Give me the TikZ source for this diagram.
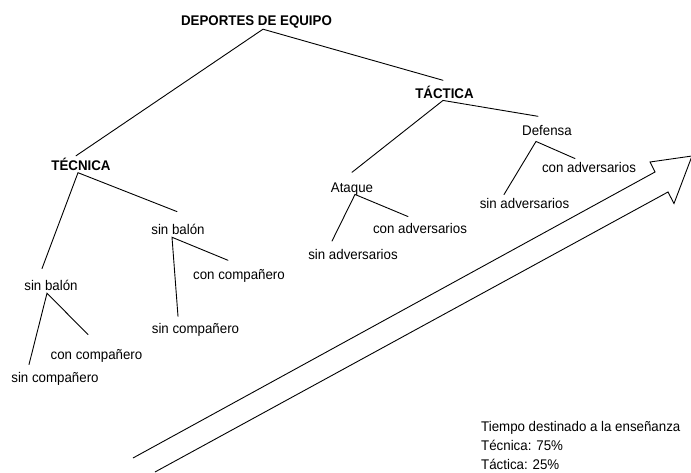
\documentclass[tikz,border=0pt]{standalone}
\usepackage{fontspec}
\setmainfont{Liberation Sans}[FakeStretch=0.95]
\begin{document}
\begin{tikzpicture}[x=1pt,y=-1pt,
  lab/.style={inner sep=0pt, text height=10pt, text depth=0pt, font=\fontsize{14}{19}\selectfont},
  head/.style={lab, font=\fontsize{14}{19}\selectfont\bfseries},
  conn/.style={line width=0.9pt, line cap=round},
  bigarrow/.style={line width=0.9pt, line join=miter}]
\useasboundingbox (0,0) rectangle (691,472);
% nodes
\node[head] (dep) at (256.5,20) {DEPORTES DE EQUIPO};
\node[head] (tec) at (81,165.5) {TÉCNICA};
\node[head] (tac) at (444.5,93.5) {TÁCTICA};
\node[lab] (sb1) at (178,229.3) {sin balón};
\node[lab] (cc1) at (239,274) {con compañero};
\node[lab] (sc1) at (195.5,328.5) {sin compañero};
\node[lab] (sb2) at (51,285) {sin balón};
\node[lab] (cc2) at (96.5,354) {con compañero};
\node[lab] (sc2) at (55,377) {sin compañero};
\node[lab] (ata) at (352,187.5) {Ataque};
\node[lab] (caa) at (420,228) {con adversarios};
\node[lab] (saa) at (353,254.5) {sin adversarios};
\node[lab] (def) at (547,130.5) {Defensa};
\node[lab] (cad) at (589,167) {con adversarios};
\node[lab] (sad) at (524.5,203) {sin adversarios};
\node[lab, anchor=base west] (time1) at (481,431) {Tiempo destinado a la enseñanza};
\node[lab, anchor=base west] (time2) at (481,450) {Técnica: 75\%};
\node[lab, anchor=base west] (time3) at (481,469) {Táctica: 25\%};
% connectors
\draw[conn] ([xshift=-5pt,yshift=4.5pt]tec.north) -- ([xshift=6.5pt,yshift=-4pt]dep.south)
            -- ([xshift=-1.5pt,yshift=8pt]tac.north);
\draw[conn] ([xshift=-1pt,yshift=12.5pt]sb1.north) -- ([xshift=-3pt,yshift=-2pt]tec.south)
            -- ([xshift=-9pt,yshift=11.25pt]sb2.north);
\draw[conn] ([xshift=-11pt,yshift=8.5pt]cc1.north) -- ([xshift=-6pt,yshift=-2.75pt]sb1.south)
            -- ([xshift=-17.5pt,yshift=7pt]sc1.north);
\draw[conn] ([xshift=-8.5pt,yshift=14.25pt]cc2.north) -- ([xshift=-4pt,yshift=-3pt]sb2.south)
            -- ([xshift=-26pt,yshift=7.25pt]sc2.north);
\draw[conn] ([yshift=10pt]ata.north) -- ([xshift=-1.5pt,yshift=-1.75pt]tac.south)
            -- ([xshift=-9pt,yshift=9pt]def.north);
\draw[conn] ([xshift=-20.5pt,yshift=3.25pt]sad.north) -- ([xshift=-11pt,yshift=-5.75pt]def.south)
            -- ([xshift=-14pt,yshift=3.25pt]cad.north);
\draw[conn] ([xshift=-21pt,yshift=8.25pt]saa.north) -- ([xshift=3pt,yshift=-1.75pt]ata.south)
            -- ([xshift=-12pt,yshift=6.25pt]caa.north);
% big open arrow
\coordinate (tailA) at (133,458);
\coordinate (tailB) at (155,472);
\draw[bigarrow] (tailA) -- (655,172) -- (650,162) -- (692,156) -- (674,203.5) -- (668,192) -- (tailB);
\end{tikzpicture}
\end{document}
